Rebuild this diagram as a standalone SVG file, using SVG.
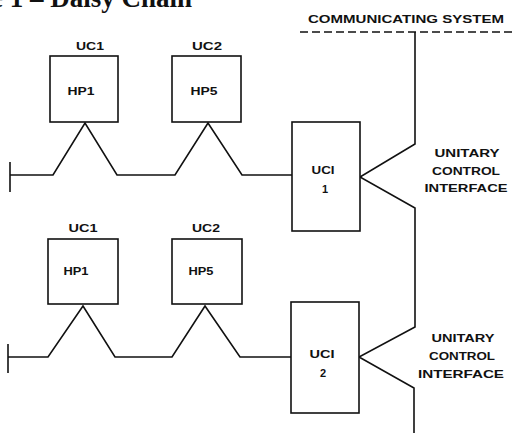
<svg xmlns="http://www.w3.org/2000/svg" width="515" height="433" viewBox="0 0 515 433">
<style>
.box{fill:#fff;stroke:#111;stroke-width:1.6}
.ln{fill:none;stroke:#111;stroke-width:1.6;stroke-linejoin:miter}
.t{font-family:"Liberation Sans",Arial,sans-serif;font-size:11px;font-weight:bold;fill:#111;text-anchor:middle}
.title{font-family:"Liberation Serif","Times New Roman",serif;font-size:27px;font-weight:bold;fill:#111;text-anchor:end}
</style>
<rect width="515" height="433" fill="#fff"/>
<text class="title" x="192" y="7">Figure 1 – Daisy Chain</text>
<g id="comm">
<text class="t" x="406" y="23" textLength="196" lengthAdjust="spacingAndGlyphs">COMMUNICATING SYSTEM</text>
<line class="ln" x1="300" y1="32" x2="515" y2="32" stroke-dasharray="8 4"/>
</g>
<g id="connectors">
<polyline class="ln" points="10,175 53,175 85,123 117,175 175,175 208,123 242,175 292,175"/>
<line class="ln" x1="10" y1="162" x2="10" y2="192"/>
<polyline class="ln" points="8,357 48,357 83,306 115,357 172,357 205,306 240,357 291,357"/>
<line class="ln" x1="8" y1="344" x2="8" y2="373"/>
<polyline class="ln" points="415,32 415,144 360,177 415,208 415,327 359,357 414,388 414,433"/>
</g>
<g id="uc1-top">
<text class="t" x="90" y="50" textLength="28" lengthAdjust="spacingAndGlyphs">UC1</text>
<rect class="box" x="50" y="56" width="68" height="66"/>
<text class="t" x="81" y="95" textLength="27" lengthAdjust="spacingAndGlyphs">HP1</text>
</g>
<g id="uc2-top">
<text class="t" x="207" y="50" textLength="30" lengthAdjust="spacingAndGlyphs">UC2</text>
<rect class="box" x="172" y="56" width="69" height="66"/>
<text class="t" x="204" y="95" textLength="27" lengthAdjust="spacingAndGlyphs">HP5</text>
</g>
<g id="uci1">
<rect class="box" x="292" y="122" width="68" height="109"/>
<text class="t" x="323" y="174" textLength="23" lengthAdjust="spacingAndGlyphs">UCI</text>
<text class="t" x="325" y="193">1</text>
</g>
<g id="uci1-label">
<text class="t" x="467" y="157" textLength="65" lengthAdjust="spacingAndGlyphs">UNITARY</text>
<text class="t" x="466" y="175" textLength="68" lengthAdjust="spacingAndGlyphs">CONTROL</text>
<text class="t" x="466" y="192" textLength="83" lengthAdjust="spacingAndGlyphs">INTERFACE</text>
</g>
<g id="uc1-bottom">
<text class="t" x="83" y="232" textLength="29" lengthAdjust="spacingAndGlyphs">UC1</text>
<rect class="box" x="48" y="239" width="70" height="65"/>
<text class="t" x="76" y="275" textLength="25" lengthAdjust="spacingAndGlyphs">HP1</text>
</g>
<g id="uc2-bottom">
<text class="t" x="206" y="232" textLength="28" lengthAdjust="spacingAndGlyphs">UC2</text>
<rect class="box" x="172" y="239" width="70" height="65"/>
<text class="t" x="201" y="275" textLength="25" lengthAdjust="spacingAndGlyphs">HP5</text>
</g>
<g id="uci2">
<rect class="box" x="291" y="302" width="68" height="111"/>
<text class="t" x="322" y="358" textLength="25" lengthAdjust="spacingAndGlyphs">UCI</text>
<text class="t" x="323" y="377">2</text>
</g>
<g id="uci2-label">
<text class="t" x="463" y="342" textLength="63" lengthAdjust="spacingAndGlyphs">UNITARY</text>
<text class="t" x="462" y="360" textLength="66" lengthAdjust="spacingAndGlyphs">CONTROL</text>
<text class="t" x="461" y="378" textLength="86" lengthAdjust="spacingAndGlyphs">INTERFACE</text>
</g>
</svg>
